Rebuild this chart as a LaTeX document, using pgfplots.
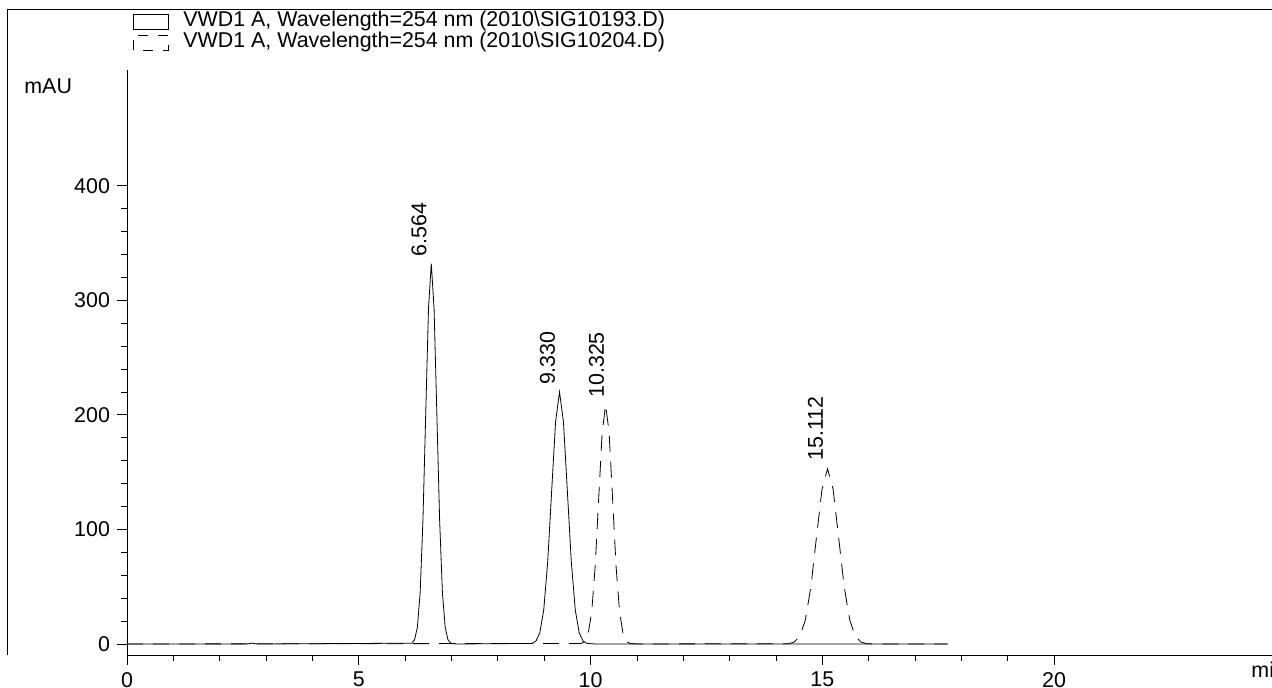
\documentclass[border=0pt]{standalone}
\usepackage{pgfplots}
\pgfplotsset{compat=1.18}
\usepackage{fontspec}
\setmainfont{Liberation Sans}
\newcommand{\f}{\fontsize{10.7}{12}\selectfont}
\begin{document}
\begin{tikzpicture}
\useasboundingbox (-63.5pt,-16.5pt) rectangle (572.5pt,327.5pt);
\draw[line width=0.5pt] (-59.5pt,0pt) -- (-59.5pt,322.5pt) -- (572.5pt,322.5pt);
\draw (3pt,313pt) rectangle (20.5pt,320.5pt);
\draw[dash pattern=on 5pt off 5pt] (3pt,302.5pt) rectangle (20.5pt,310pt);
\node[anchor=west,font=\f,inner sep=0pt] at (28pt,316.8pt) {VWD1 A, Wavelength=254 nm (2010\textbackslash SIG10193.D)};
\node[anchor=west,font=\f,inner sep=0pt] at (28pt,306.3pt) {VWD1 A, Wavelength=254 nm (2010\textbackslash SIG10204.D)};
\begin{axis}[at={(0,0)},anchor=south west,scale only axis,width=572.5pt,height=292.5pt,
 xmin=0,xmax=24.7,ymin=-9.6,ymax=501,
 axis x line*=bottom, axis y line*=left, axis line style={-},
 xtick={0,5,10,15,20}, ytick={0,100,200,300,400},
 minor x tick num=4, minor y tick num=4,
 tick align=outside, tick style={black,thin},
 major tick length=5pt, minor tick length=3pt,
 tick label style={font=\f}, /pgf/number format/assume math mode=true,
 clip=false]
\addplot[black,thin] coordinates {(0,0) (2.6,0) (2.7,0.8) (2.8,0) (6.144,0.7) (6.204,3.7) (6.264,14.6) (6.324,44.9) (6.384,108) (6.444,201) (6.504,293) (6.564,332) (6.624,293) (6.684,201) (6.744,108) (6.804,44.9) (6.864,14.6) (6.924,3.7) (6.984,0.7) (7.1,0)
 (8.735,0.5) (8.82,2.4) (8.905,9.7) (8.99,29.8) (9.075,71.4) (9.16,133) (9.245,194) (9.33,220) (9.415,194) (9.5,133) (9.585,71.4) (9.67,29.8) (9.755,9.7) (9.84,2.4) (9.925,0.5) (10.1,0) (17.7,0)};
\addplot[black,thin,dash pattern=on 8pt off 5pt] coordinates {(0,0) (9.8,0.5) (9.875,2.3) (9.95,9.2) (10.025,28.3) (10.1,67.9) (10.175,126.8) (10.25,184.4) (10.325,209) (10.4,184.4) (10.475,126.8) (10.55,67.9) (10.625,28.3) (10.7,9.2) (10.775,2.3) (10.85,0.5) (11,0)
 (14.272,0.3) (14.392,1.7) (14.512,6.7) (14.632,20.7) (14.752,49.7) (14.872,92.8) (14.992,135) (15.112,153) (15.232,135) (15.352,92.8) (15.472,49.7) (15.592,20.7) (15.712,6.7) (15.832,1.7) (15.952,0.3) (16.1,0) (17.7,0)};
\node[rotate=90,anchor=west,font=\f,inner sep=1pt] at (axis cs:6.30,336) {6.564};
\node[rotate=90,anchor=west,font=\f,inner sep=1pt] at (axis cs:9.07,224) {9.330};
\node[rotate=90,anchor=west,font=\f,inner sep=1pt] at (axis cs:10.13,213) {10.325};
\node[rotate=90,anchor=west,font=\f,inner sep=1pt] at (axis cs:14.85,158) {15.112};
\node[anchor=north,font=\f] at (axis cs:24.5,-9.6) {mi};
\node[anchor=center,font=\f] at (axis cs:-1.7,487) {mAU};
\end{axis}
\end{tikzpicture}
\end{document}
